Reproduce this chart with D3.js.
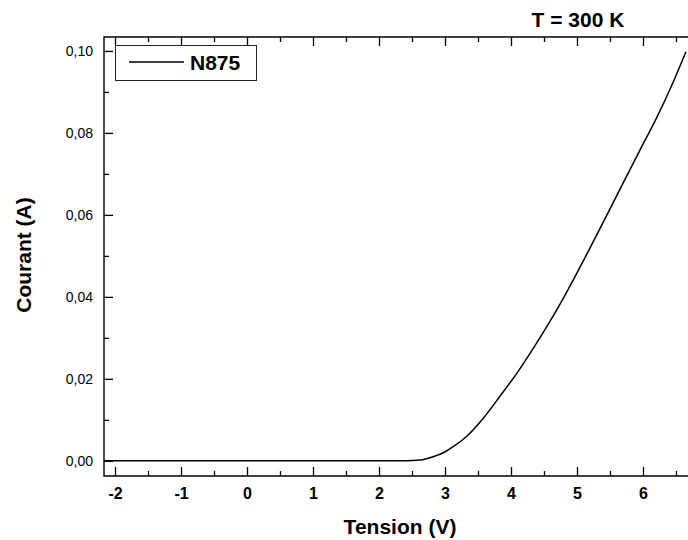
<!DOCTYPE html>
<html>
<head>
<meta charset="utf-8">
<script src="https://cdn.jsdelivr.net/npm/d3@7"></script>
<style>
  body { margin: 0; background: #fff; }
  svg { display: block; font-family: "Liberation Sans", Arial, sans-serif; }
</style>
</head>
<body>
<svg id="svg" width="688" height="540"></svg>
<script>
// I-V curve, N875 at 300 K
var tension = [-2.17, 2.0, 2.4, 2.62, 2.82, 2.99, 3.13, 3.33, 3.58, 3.83, 4.09, 4.34, 4.59, 4.79, 5.20, 5.45, 5.70, 5.95, 6.21, 6.46, 6.65];
var courant = [0, 0, 0.00003, 0.0002, 0.0010, 0.0021, 0.0035, 0.0060, 0.0104, 0.0157, 0.0214, 0.0275, 0.0340, 0.0396, 0.0520, 0.0599, 0.0678, 0.0757, 0.0838, 0.0925, 0.0998];
var xTicks = [-2, -1, 0, 1, 2, 3, 4, 5, 6];
var yTicks = [0, 0.02, 0.04, 0.06, 0.08, 0.10];
var seriesName = "N875";
var title = "T = 300 K";

var svg = d3.select("#svg");
var mLeft = 104, mRight = 688, mTop = 37, mBottom = 476;

var x = d3.scaleLinear().domain([-2.167, 6.682]).range([mLeft, mRight]);
var y = d3.scaleLinear().domain([-0.0037, 0.1034]).range([mBottom, mTop]);

var fmt = function(d) { return d3.format(".2f")(d).replace(".", ","); };

var xMinor = [-1.5, -0.5, 0.5, 1.5, 2.5, 3.5, 4.5, 5.5, 6.5];
var yMinor = [0.01, 0.03, 0.05, 0.07, 0.09];

function ticks(g, makeAxis, major, minor, bigLen, smallLen) {
  g.append("g").attr("class", "major")
    .call(makeAxis().tickValues(major).tickSize(bigLen).tickFormat(""));
  g.append("g").attr("class", "minor")
    .call(makeAxis().tickValues(minor).tickSize(smallLen).tickFormat(""));
  g.selectAll(".domain").remove();
  g.selectAll("text").remove();
  g.selectAll(".tick line").attr("stroke", "#000").attr("stroke-width", 1.3);
}

// bottom axis
var gb = svg.append("g").attr("transform", "translate(0," + mBottom + ")");
ticks(gb, function() { return d3.axisTop(x); }, xTicks, xMinor, 9, 5);
gb.selectAll("g.major g.tick")
  .append("text")
  .attr("y", 23)
  .attr("text-anchor", "middle")
  .attr("fill", "#000")
  .style("font-size", "16px")
  .style("font-weight", "bold")
  .text(function(d) { return d; });

// top axis
var gt = svg.append("g").attr("transform", "translate(0," + mTop + ")");
ticks(gt, function() { return d3.axisBottom(x); }, xTicks, xMinor, 9, 5);

// left axis
var gl = svg.append("g").attr("transform", "translate(" + mLeft + ",0)");
ticks(gl, function() { return d3.axisRight(y); }, yTicks, yMinor, 9, 5);
gl.selectAll("g.major g.tick")
  .append("text")
  .attr("x", -11)
  .attr("dy", "0.35em")
  .attr("text-anchor", "end")
  .attr("fill", "#000")
  .style("font-size", "14px")
  .text(fmt);

// axis lines (no right axis)
svg.append("path")
  .attr("d", "M" + mRight + "," + mTop + "H" + mLeft + "V" + mBottom + "H" + mRight)
  .attr("fill", "none")
  .attr("stroke", "#000")
  .attr("stroke-width", 1.4);

// curve
var line = d3.line()
  .x(function(d) { return x(d[0]); })
  .y(function(d) { return y(d[1]); })
  .curve(d3.curveMonotoneX);

svg.append("path")
  .datum(d3.zip(tension, courant))
  .attr("d", line)
  .attr("fill", "none")
  .attr("stroke", "#000")
  .attr("stroke-width", 1.5);

// legend
var lg = svg.append("g");
lg.append("rect")
  .attr("x", 115.5).attr("y", 45.5)
  .attr("width", 141).attr("height", 35)
  .attr("fill", "#fff").attr("stroke", "#222").attr("stroke-width", 1);
lg.append("line")
  .attr("x1", 129).attr("x2", 184)
  .attr("y1", 62).attr("y2", 62)
  .attr("stroke", "#000").attr("stroke-width", 1.5);
lg.append("text")
  .attr("x", 190).attr("y", 69.5)
  .style("font-size", "21px").style("font-weight", "bold")
  .text(seriesName);

// titles
svg.append("text")
  .attr("x", 578).attr("y", 27)
  .attr("text-anchor", "middle")
  .style("font-size", "21px").style("font-weight", "bold")
  .text(title);

svg.append("text")
  .attr("x", 400).attr("y", 534)
  .attr("text-anchor", "middle")
  .style("font-size", "21px").style("font-weight", "bold")
  .text("Tension (V)");

svg.append("text")
  .attr("transform", "translate(31,255) rotate(-90)")
  .attr("text-anchor", "middle")
  .style("font-size", "21px").style("font-weight", "bold")
  .text("Courant (A)");
</script>
</body>
</html>
